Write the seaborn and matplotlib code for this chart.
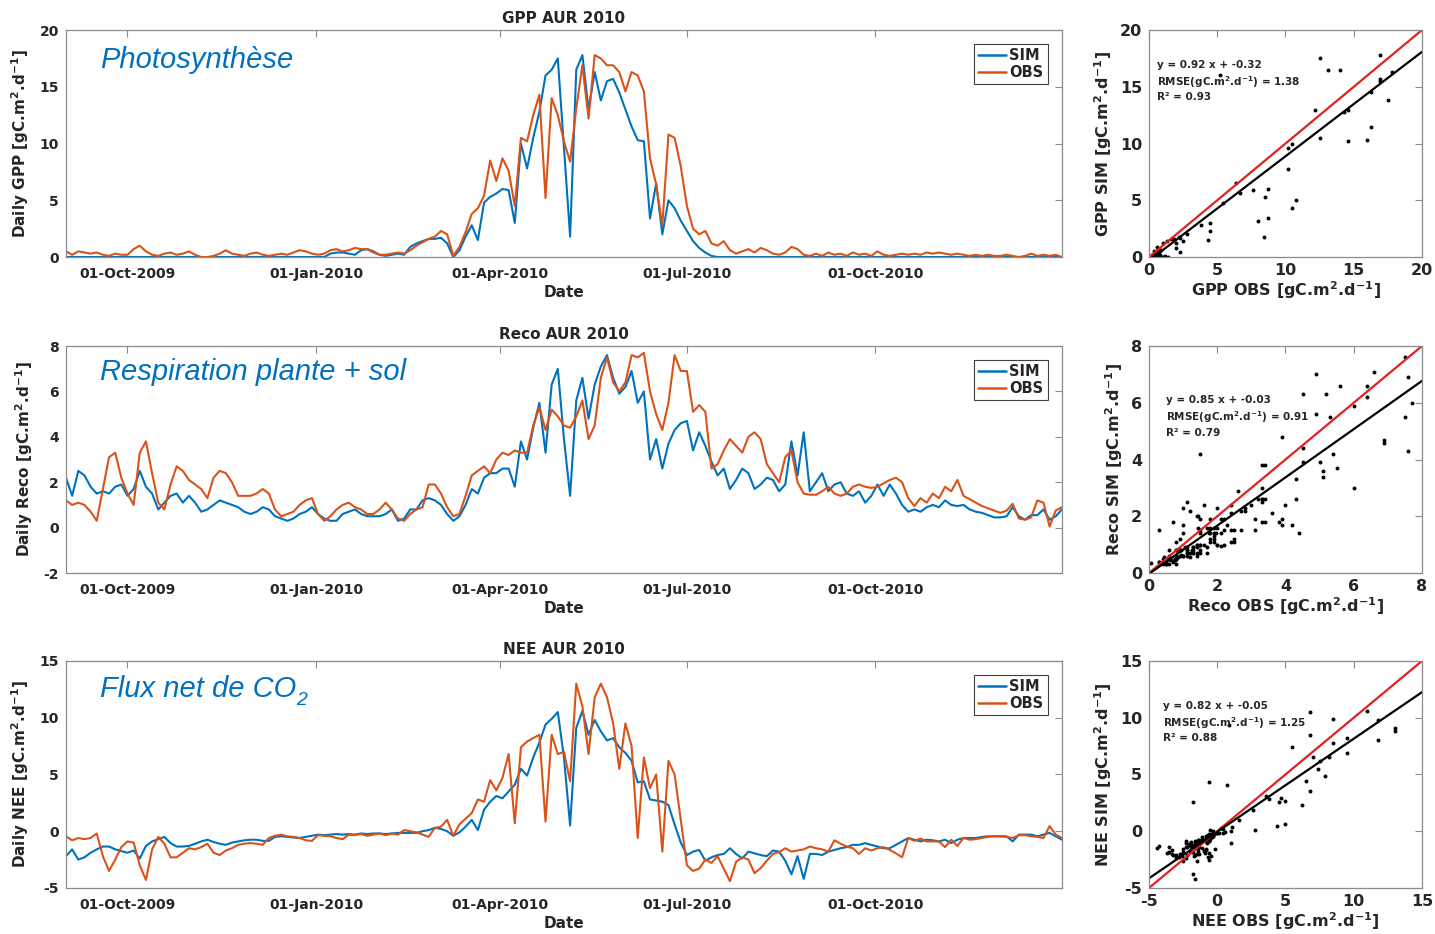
import numpy as np
import pandas as pd
import matplotlib
matplotlib.use("Agg")
import matplotlib.pyplot as plt
import matplotlib.dates as mdates
from matplotlib.lines import Line2D
import seaborn as sns

# ---------------- data (3-day sampling, 01-Sep-2009 .. 31-Dec-2010) ----------------
START_DATE = "2009-09-01"
N_POINTS = 163
STEP = "3D"

GPP_SIM = [
    0, 0, 0, 0, 0, 0, 0, 0, 0, 0,
    0, 0, 0, 0, 0, 0, 0, 0, 0, 0,
    0, 0, 0, 0, 0, 0, 0, 0, 0, 0,
    0, 0, 0, 0, 0, 0, 0, 0, 0, 0,
    0.0, 0.0, 0.0, 0.3, 0.4, 0.4, 0.3, 0.2, 0.6, 0.7,
    0.5, 0.2, 0.1, 0.2, 0.3, 0.2, 0.9, 1.2, 1.4, 1.6,
    1.6, 1.7, 1.2, 0.0, 0.6, 1.8, 2.8, 1.5, 4.8, 5.3,
    5.6, 6.0, 5.9, 3.0, 10.0, 7.8, 10.5, 12.8, 16.0, 16.5,
    17.5, 9.6, 1.8, 16.5, 17.8, 13.0, 16.3, 13.8, 15.5, 15.7,
    14.5, 13.0, 11.5, 10.3, 10.2, 3.4, 6.5, 2.0, 5.0, 4.3,
    3.2, 2.3, 1.4, 0.8, 0.4, 0.1, 0, 0, 0, 0,
    0, 0, 0, 0, 0, 0, 0, 0, 0, 0,
    0, 0, 0, 0, 0, 0, 0, 0, 0, 0,
    0, 0, 0, 0, 0, 0, 0, 0, 0, 0,
    0, 0, 0, 0, 0, 0, 0, 0, 0, 0,
    0, 0, 0, 0, 0, 0, 0, 0, 0, 0,
    0, 0, 0,
]
GPP_OBS = [
    0.5, 0.2, 0.5, 0.4, 0.3, 0.4, 0.2, 0.1, 0.3, 0.2,
    0.2, 0.7, 1.0, 0.5, 0.2, 0.1, 0.3, 0.4, 0.2, 0.3,
    0.5, 0.2, 0.0, 0.0, 0.1, 0.3, 0.6, 0.3, 0.2, 0.1,
    0.3, 0.4, 0.2, 0.1, 0.2, 0.3, 0.2, 0.4, 0.6, 0.5,
    0.3, 0.2, 0.3, 0.6, 0.7, 0.5, 0.6, 0.8, 0.7, 0.7,
    0.4, 0.2, 0.2, 0.3, 0.4, 0.3, 0.6, 1.0, 1.3, 1.6,
    1.8, 2.3, 2.0, 0.1, 0.9, 2.2, 3.8, 4.3, 5.4, 8.5,
    6.7, 8.7, 7.6, 4.5, 10.5, 10.2, 12.5, 14.3, 5.2, 14.0,
    12.5, 10.2, 8.4, 13.1, 16.9, 12.2, 17.8, 17.5, 16.9, 16.9,
    16.3, 14.6, 16.3, 16.0, 14.6, 8.7, 6.4, 2.8, 10.8, 10.5,
    8.0, 4.5, 2.5, 2.0, 2.3, 1.2, 1.0, 1.4, 0.6, 0.3,
    0.5, 0.7, 0.4, 0.8, 0.6, 0.3, 0.2, 0.4, 0.9, 0.7,
    0.2, 0.1, 0.3, 0.1, 0.4, 0.2, 0.3, 0.1, 0.4, 0.2,
    0.3, 0.1, 0.5, 0.2, 0.1, 0.2, 0.3, 0.2, 0.3, 0.2,
    0.4, 0.3, 0.4, 0.3, 0.2, 0.3, 0.2, 0.1, 0.2, 0.1,
    0.2, 0.1, 0.1, 0.2, 0.1, 0.0, 0.1, 0.3, 0.1, 0.2,
    0.1, 0.2, 0.0,
]
RECO_SIM = [
    2.2, 1.4, 2.5, 2.3, 1.8, 1.5, 1.6, 1.5, 1.8, 1.9,
    1.4, 1.7, 2.5, 1.8, 1.5, 0.8, 1.1, 1.4, 1.5, 1.1,
    1.4, 1.1, 0.7, 0.8, 1.0, 1.2, 1.1, 1.0, 0.9, 0.7,
    0.6, 0.7, 0.9, 0.8, 0.5, 0.4, 0.3, 0.4, 0.6, 0.7,
    0.9, 0.6, 0.4, 0.3, 0.3, 0.6, 0.7, 0.8, 0.6, 0.5,
    0.5, 0.5, 0.6, 0.8, 0.3, 0.4, 0.8, 0.8, 1.2, 1.3,
    1.2, 1.0, 0.6, 0.3, 0.5, 1.0, 1.7, 1.5, 2.2, 2.4,
    2.4, 2.6, 2.6, 1.8, 3.8, 3.0, 4.4, 5.5, 3.3, 6.3,
    7.0, 3.9, 1.4, 5.6, 6.6, 4.8, 6.3, 7.1, 7.6, 6.6,
    5.9, 6.2, 6.9, 5.5, 6.0, 3.0, 3.9, 2.6, 3.7, 4.3,
    4.6, 4.7, 3.4, 4.2, 3.6, 2.9, 2.3, 2.6, 1.7, 2.1,
    2.6, 2.4, 1.7, 1.9, 2.2, 2.1, 1.6, 1.9, 3.8, 2.3,
    4.2, 1.6, 2.0, 2.4, 1.6, 1.9, 2.0, 1.5, 1.4, 1.6,
    1.1, 1.4, 1.9, 1.4, 1.9, 1.5, 1.0, 0.7, 0.8, 0.7,
    0.9, 1.0, 0.9, 1.2, 1.0, 0.95, 1.0, 0.8, 0.7, 0.65,
    0.55, 0.45, 0.45, 0.5, 0.9, 0.5, 0.35, 0.55, 0.55, 0.8,
    0.35, 0.5, 0.8,
]
RECO_OBS = [
    1.2, 1.0, 1.1, 1.0, 0.7, 0.3, 1.7, 3.1, 3.3, 2.2,
    1.5, 1.0, 3.3, 3.8, 2.4, 1.1, 0.8, 1.9, 2.7, 2.5,
    2.1, 1.9, 1.7, 1.3, 2.2, 2.5, 2.4, 2.0, 1.4, 1.4,
    1.4, 1.5, 1.7, 1.5, 0.8, 0.5, 0.6, 0.7, 1.0, 1.2,
    1.3, 0.6, 0.3, 0.5, 0.8, 1.0, 1.1, 0.9, 0.8, 0.6,
    0.6, 0.8, 1.1, 0.8, 0.4, 0.3, 0.6, 0.8, 0.9, 1.9,
    1.9, 1.5, 0.9, 0.5, 0.6, 1.4, 2.3, 2.5, 2.7, 2.4,
    3.0, 3.3, 3.2, 3.4, 3.3, 3.3, 4.5, 5.3, 4.3, 5.2,
    4.9, 4.5, 4.4, 4.9, 5.6, 3.9, 4.5, 6.6, 7.5, 6.4,
    6.0, 6.4, 7.6, 7.5, 7.7, 6.0, 5.0, 4.3, 5.5, 7.6,
    6.9, 6.9, 5.1, 5.4, 5.1, 2.6, 2.8, 3.4, 3.9, 3.6,
    3.3, 4.0, 4.2, 3.9, 2.8, 2.4, 2.0, 3.1, 3.4, 2.0,
    1.5, 1.45, 1.45, 1.6, 1.8, 1.5, 1.4, 1.5, 1.8, 1.9,
    1.8, 1.75, 1.8, 1.95, 2.1, 2.2, 2.0, 1.3, 0.95, 1.3,
    1.1, 1.5, 1.3, 1.8, 1.6, 2.1, 1.4, 1.25, 1.1, 0.95,
    0.85, 0.75, 0.65, 0.75, 1.05, 0.4, 0.35, 0.45, 1.2, 1.1,
    0.05, 0.75, 0.9,
]
NEE_SIM = [
    -2.2, -1.6, -2.5, -2.3, -1.9, -1.6, -1.35, -1.35, -1.6, -1.75,
    -1.9, -1.7, -2.4, -1.3, -0.9, -0.7, -0.5, -1.05, -1.35, -1.35,
    -1.3, -1.1, -0.9, -0.75, -0.95, -1.1, -1.2, -1.0, -0.9, -0.8,
    -0.75, -0.75, -0.85, -0.85, -0.5, -0.45, -0.5, -0.55, -0.6, -0.5,
    -0.4, -0.3, -0.35, -0.3, -0.25, -0.3, -0.25, -0.3, -0.2, -0.25,
    -0.2, -0.2, -0.25, -0.2, -0.15, -0.15, -0.15, -0.15, 0.0, 0.1,
    0.3, 0.2, 0.0, -0.4, -0.1, 0.4, 1.0, 0.1, 1.9, 2.6,
    3.1, 2.9, 3.5, 4.1, 5.5, 4.9, 6.5, 7.8, 9.4, 9.9,
    10.5, 6.5, 0.5, 9.1, 10.6, 8.5, 9.8, 8.8, 8.0, 8.2,
    7.4, 6.9, 6.2, 4.3, 4.4, 2.8, 2.7, 2.6, 2.3, 0.6,
    -1.0, -2.1, -1.8, -1.65, -2.6, -2.3, -2.1, -2.0, -1.5, -2.0,
    -2.4, -1.8, -1.95, -2.1, -2.2, -1.7, -1.8, -2.6, -3.8, -2.2,
    -4.2, -2.0, -2.0, -2.1, -1.8, -1.65, -1.5, -1.4, -1.2, -1.2,
    -1.05, -1.2, -1.35, -1.5, -1.5, -1.2, -0.9, -0.6, -0.75, -0.9,
    -0.75, -0.8, -0.9, -0.75, -1.05, -0.75, -0.6, -0.6, -0.6, -0.5,
    -0.45, -0.45, -0.45, -0.45, -0.9, -0.3, -0.3, -0.3, -0.45, -0.3,
    -0.15, -0.45, -0.75,
]
NEE_OBS = [
    -0.45, -0.8, -0.6, -0.7, -0.6, -0.2, -2.2, -3.5, -2.5, -1.4,
    -0.9, -1.0, -3.0, -4.3, -1.6, -0.5, -1.1, -2.3, -2.3, -1.9,
    -1.5, -1.6, -1.4, -1.1, -1.9, -2.1, -1.7, -1.5, -1.2, -1.1,
    -1.05, -1.1, -1.2, -0.6, -0.4, -0.3, -0.45, -0.5, -0.6, -0.8,
    -0.85, -0.35, -0.4, -0.45, -0.6, -0.7, -0.3, -0.35, -0.25, -0.4,
    -0.3, -0.2, -0.35, -0.2, -0.3, 0.1, 0.0, -0.1, -0.3, -0.5,
    0.3, 0.4, 1.0, -0.4, 0.6, 1.1, 1.6, 2.8, 2.6, 4.5,
    3.6, 4.7, 6.8, 0.7, 7.4, 7.9, 8.2, 8.5, 0.85, 8.5,
    6.8, 7.0, 4.4, 13.0, 11.0, 6.8, 11.8, 13.0, 11.8, 9.5,
    5.5, 9.5, 7.5, -0.6, 6.5, 3.8, 5.0, -1.8, 6.2, 5.0,
    1.0, -3.0, -3.5, -3.3, -2.5, -2.8, -2.2, -3.3, -4.4, -2.7,
    -2.3, -2.5, -3.7, -3.25, -2.6, -2.0, -1.85, -1.5, -1.8, -1.7,
    -1.6, -1.35, -1.5, -1.6, -1.8, -0.8, -1.1, -1.35, -1.5, -2.0,
    -1.5, -1.7, -1.5, -1.4, -1.65, -1.95, -2.3, -0.6, -0.85, -0.65,
    -0.9, -0.9, -0.9, -1.4, -0.75, -1.3, -0.6, -0.75, -0.7, -0.6,
    -0.5, -0.45, -0.45, -0.5, -0.6, -0.35, -0.35, -0.45, -0.5, -0.6,
    0.45, -0.3, -0.6,
]

# regression statistics shown on the scatter panels
FIT_SLOPE = [0.92, 0.85, 0.82]
FIT_INTERCEPT = [-0.32, -0.03, -0.05]
FIT_RMSE = ["1.38", "0.91", "1.25"]
FIT_R2 = ["0.93", "0.79", "0.88"]

VARS = ["GPP", "Reco", "NEE"]
TITLES = ["GPP AUR 2010", "Reco AUR 2010", "NEE AUR 2010"]
LABELS_FR = ["Photosynthèse", "Respiration plante + sol", "Flux net de CO"]
LABELS_FR_SUB = ["", "", "2"]
YLIMS = [(0, 20), (-2, 8), (-5, 15)]
YTICKS = [[0, 5, 10, 15, 20], [-2, 0, 2, 4, 6, 8], [-5, 0, 5, 10, 15]]
SC_LIMS = [(0, 20), (0, 8), (-5, 15)]
SC_TICKS = [[0, 5, 10, 15, 20], [0, 2, 4, 6, 8], [-5, 0, 5, 10, 15]]
DATE_TICKS = ["2009-10-01", "2010-01-01", "2010-04-01", "2010-07-01", "2010-10-01"]
SERIES = [(GPP_SIM, GPP_OBS), (RECO_SIM, RECO_OBS), (NEE_SIM, NEE_OBS)]

C_SIM = "#0072BD"
C_OBS = "#D95319"
C_BLUE_TXT = "#0070C0"
C_TXT = "#262626"
C_FRAME = "#8c8c8c"

# ---------------- style ----------------
sns.set_theme(style="white")
plt.rcParams.update({
    "font.family": ["DejaVu Sans"],
    "font.weight": "bold",
    "axes.labelweight": "bold",
    "axes.titleweight": "bold",
    "mathtext.default": "bf",
    "axes.unicode_minus": False,
    "axes.edgecolor": C_FRAME,
    "axes.linewidth": 0.9,
    "axes.labelcolor": C_TXT,
    "text.color": C_TXT,
    "xtick.color": C_FRAME,
    "ytick.color": C_FRAME,
    "xtick.labelcolor": C_TXT,
    "ytick.labelcolor": C_TXT,
    "xtick.direction": "in",
    "ytick.direction": "in",
})

dates = pd.date_range(START_DATE, periods=N_POINTS, freq=STEP)

fig = plt.figure(figsize=(14.35, 9.34), dpi=100)
bottoms = [0.7248, 0.3865, 0.0493]
H = 0.243

unit = r"[gC.m$^{2}$.d$^{-1}$]"

for k in range(3):
    sim, obs = SERIES[k]
    # ---- time series ----
    ax = fig.add_axes([0.046, bottoms[k], 0.694, H])
    df = pd.DataFrame({"Date": dates, "SIM": sim, "OBS": obs}).melt(
        id_vars="Date", var_name="series", value_name="value")
    sns.lineplot(data=df, x="Date", y="value", hue="series",
                 palette={"SIM": C_SIM, "OBS": C_OBS}, linewidth=1.5,
                 ax=ax, legend=False)
    ax.set_xlim(dates[0], dates[-1])
    ax.set_ylim(*YLIMS[k])
    ax.set_yticks(YTICKS[k])
    ax.set_xticks(pd.to_datetime(DATE_TICKS))
    ax.xaxis.set_major_formatter(mdates.DateFormatter("%d-%b-%Y"))
    ax.tick_params(axis="x", which="both", top=True, length=5, width=0.8,
                   labelsize=10, pad=7)
    ax.tick_params(axis="y", which="both", right=True, length=5, width=0.8,
                   labelsize=10, pad=5)
    for lab in ax.get_xticklabels() + ax.get_yticklabels():
        lab.set_fontweight("bold")
    ax.set_xlabel("Date", fontsize=11, labelpad=3)
    ax.set_ylabel(f"Daily {VARS[k]} " + unit, fontsize=11, labelpad=6)
    ax.set_title(TITLES[k], fontsize=11, pad=5)
    handles = [Line2D([], [], color=C_SIM, lw=1.8), Line2D([], [], color=C_OBS, lw=1.8)]
    leg = ax.legend(handles, ["SIM", "OBS"], loc="upper right",
                    bbox_to_anchor=(0.986, 0.94), frameon=True, fancybox=False,
                    framealpha=1, edgecolor="#404040", fontsize=10.5,
                    handlelength=1.9, handletextpad=0.25, labelspacing=0.12,
                    borderpad=0.3, borderaxespad=0.0)
    leg.get_frame().set_linewidth(0.8)
    for t in leg.get_texts():
        t.set_fontweight("bold")
    t_fr = ax.text(0.034, [0.87, 0.885, 0.875][k], LABELS_FR[k], transform=ax.transAxes,
                   color=C_BLUE_TXT, fontsize=21, style="italic", fontweight="normal",
                   family=["Liberation Sans", "DejaVu Sans"], va="center", ha="left")
    if LABELS_FR_SUB[k]:
        ax.annotate(LABELS_FR_SUB[k], xy=(1.0, 0.12), xycoords=t_fr,
                    color=C_BLUE_TXT, fontsize=14, style="italic", fontweight="normal",
                    family=["Liberation Sans", "DejaVu Sans"], va="center", ha="left")

    # ---- scatter ----
    sx = fig.add_axes([0.8007, bottoms[k], 0.1902, H])
    sns.scatterplot(x=obs, y=sim, color="black", s=8, linewidth=0, ax=sx)
    lim = np.array(SC_LIMS[k], dtype=float)
    sns.lineplot(x=lim, y=lim, color="#E3211C", linewidth=1.6, ax=sx)
    sns.lineplot(x=lim, y=FIT_SLOPE[k] * lim + FIT_INTERCEPT[k],
                 color="black", linewidth=1.6, ax=sx)
    sx.set_xlim(*SC_LIMS[k])
    sx.set_ylim(*SC_LIMS[k])
    sx.set_xticks(SC_TICKS[k])
    sx.set_yticks(SC_TICKS[k])
    sx.tick_params(axis="x", which="both", top=True, length=5, width=0.8,
                   labelsize=11.5, pad=4)
    sx.tick_params(axis="y", which="both", right=True, length=5, width=0.8,
                   labelsize=11.5, pad=5)
    for lab in sx.get_xticklabels() + sx.get_yticklabels():
        lab.set_fontweight("bold")
    sx.set_xlabel(f"{VARS[k]} OBS " + unit, fontsize=11.5, labelpad=1)
    sx.set_ylabel(f"{VARS[k]} SIM " + unit, fontsize=11.5, labelpad=4)
    txt = (f"y = {FIT_SLOPE[k]:.2f} x + {FIT_INTERCEPT[k]:.2f}\n"
           r"RMSE(gC.m$^{2}$.d$^{-1}$) = " + FIT_RMSE[k] + "\n"
           f"R\u00b2 = {FIT_R2[k]}")
    pos = [(0.03, 0.87), (0.062, 0.785), (0.05, 0.825)][k]
    sx.text(pos[0], pos[1], txt, transform=sx.transAxes, fontsize=7.5,
            fontweight="bold", va="top", ha="left", linespacing=1.35)

fig.savefig("out.png", dpi=100)
